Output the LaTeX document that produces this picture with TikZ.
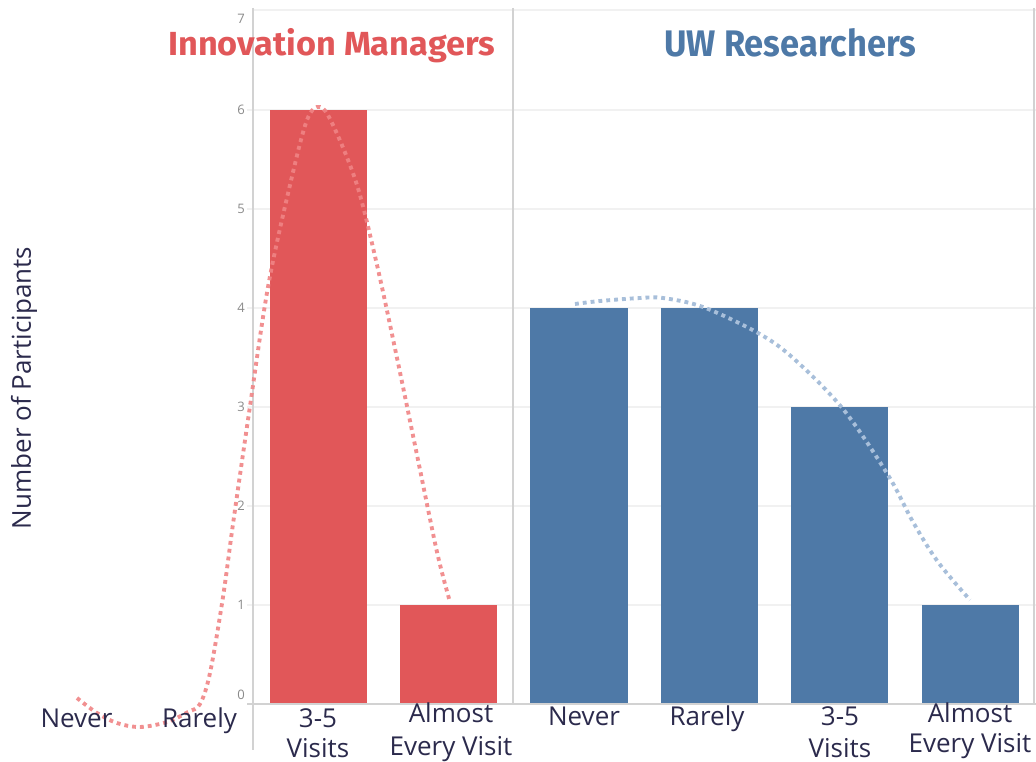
\documentclass[tikz,border=0pt]{standalone}
\usepackage{fontspec}
\setmainfont{Open Sans}
\newfontfamily\titlefont{Fira Sans}
\definecolor{tred}{HTML}{E15759}
\definecolor{tblue}{HTML}{4E79A7}
\definecolor{redtrend}{HTML}{F08485}
\definecolor{bluetrend}{HTML}{A8BFDA}
\definecolor{labelc}{HTML}{2B2A4C}
\definecolor{gridc}{HTML}{F1F1F1}
\definecolor{axisc}{HTML}{D2D2D2}
\definecolor{tickc}{HTML}{8A8A8A}
\tikzset{
  gridline/.style={gridc, line width=0.8pt},
  axisline/.style={axisc, line width=0.8pt},
  redbar/.style={fill=tred},
  bluebar/.style={fill=tblue},
  trend/.style={line width=2.9pt, dash pattern=on 2.9pt off 3pt, line cap=butt},
  ticklab/.style={tickc, font=\fontsize{9.8}{11}\selectfont, anchor=east, inner sep=0pt},
  catlab/.style={labelc, font=\fontsize{19.5}{23}\selectfont, anchor=base, inner sep=0pt},
  titlelab/.style={anchor=base west, inner sep=0pt}
}
\begin{document}
\begin{tikzpicture}[x=0.75pt,y=-0.75pt]
\useasboundingbox (0,0) rectangle (1036,762);
% gridlines
\foreach \v in {1,...,6} {
  \draw[gridline] (247,{704-99*\v}) -- (1036,{704-99*\v});
}
\draw[gridline, line width=1.5pt] (253,10) -- (1036,10);
% axes and panel borders
\draw[axisline] (253,8) -- (253,750);
\draw[axisline] (513,8) -- (513,704);
\draw[axisline] (1034,8) -- (1034,704);
% tick labels
\foreach \v in {1,...,6} {
  \node[ticklab] at (245,{704-99*\v}) {\v};
}
\node[ticklab] at (245,19) {7};
\node[ticklab] at (245,695) {0};
% bars
\fill[redbar] (270,110) rectangle (367,704);
\fill[redbar] (400,605) rectangle (497,704);
\fill[bluebar] (530,308) rectangle (628,704);
\fill[bluebar] (661,308) rectangle (758,704);
\fill[bluebar] (791,407) rectangle (888,704);
\fill[bluebar] (922,605) rectangle (1019,704);
% baseline
\draw[axisc, line width=1.5pt] (247,704) -- (1036,704);
% trend curves
\draw[trend, redtrend, opacity=0.9] plot[smooth, tension=0.55] coordinates {
 (77,698) (97,713) (117,723) (140,727) (167,722) (188,712) (200,704)
 (210,673) (223,597) (233,524) (249,413) (268,287) (290,185) (307,120)
 (320,107) (333,125) (357,185) (377,265) (397,358) (417,455) (437,552) (450,602)};
\draw[trend, bluetrend] plot[smooth, tension=0.55] coordinates {
 (575,304) (600,301) (640,298) (663,298) (703,307) (758,333) (793,358)
 (843,409) (888,475) (913,522) (938,562) (970,600)};
% titles
\node[titlelab, tred] (t1) at (168,56) {\resizebox{245pt}{20.3pt}{\titlefont\bfseries Innovation Managers}};
\node[titlelab, tblue] (t2) at (664,57) {\resizebox{189pt}{21pt}{\titlefont\bfseries UW Researchers}};
% axis title
\node[labelc, font=\fontsize{19.5}{23}\selectfont, rotate=90, inner sep=0pt] (yt) at (24,388) {Number of Participants};
% category labels
\node[catlab] (r1) at (76.5,727) {Never};
\node[catlab] (r2) at (199.5,727) {Rarely};
\node[catlab] (r3a) at (318,727) {3-5};
\node[catlab] (r3b) at (318,757) {Visits};
\node[catlab] (r4a) at (451,723) {Almost};
\node[catlab] (r4b) at (451,755) {Every Visit};
\node[catlab] (b1) at (584,725) {Never};
\node[catlab] (b2) at (707,725) {Rarely};
\node[catlab] (b3a) at (840,725) {3-5};
\node[catlab] (b3b) at (840,757) {Visits};
\node[catlab] (b4a) at (970,723) {Almost};
\node[catlab] (b4b) at (970,753) {Every Visit};
\end{tikzpicture}
\end{document}
